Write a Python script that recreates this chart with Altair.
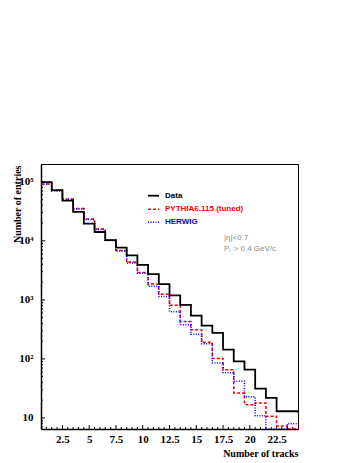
import altair as alt
import pandas as pd

# ---- data (bin centres 1..24, width 1) ----
bins = list(range(1, 25))
data_vals = [98900, 72400, 47800, 30800, 19600, 14100, 10260, 7660, 5650, 3900,
             2720, 1850, 1190, 823, 540, 366, 277, 144, 90.6, 65.6,
             31.3, 21.9, 13.0, 13.0]
pythia_vals = [91500, 70900, 51000, 35200, 23400, 15800, 10300, 6870, 4390, 2900,
               1860, 1240, 807, 430, 311, 191, 102, 65.6, 26.5, 16.8,
               17.9, 10.7, 7.3, 0]
herwig_vals = [91500, 69600, 50000, 34500, 22900, 15500, 10100, 6700, 4200, 2830,
               1700, 1140, 630, 380, 262, 180, 85.1, 58.4, 41.9, 22.9,
               10.9, 0, 0, 8.0]

series_names = ["Data", "PYTHIA6.115 (tuned)", "HERWIG"]
series_colors = ["#000000", "#ff0000", "#0000ff"]
x_label_ticks = [2.5, 5, 7.5, 10, 12.5, 15, 17.5, 20, 22.5]
y_label_ticks = [10, 100, 1000, 10000, 100000]
y_label_text = ["10", "10²", "10³", "10⁴", "10⁵"]
cut_lines = ["|η|<0.7", "Pₜ > 0.4 GeV/c"]

W, H = 257, 265
FONT_SERIF = "Liberation Serif"
FONT_SANS = "Liberation Sans"


def steps(vals, name):
    rows = [{"x": b - 0.5, "v": v, "s": name} for b, v in zip(bins, vals)]
    rows.append({"x": bins[-1] + 0.5, "v": vals[-1], "s": name})
    return rows


df = pd.DataFrame(steps(data_vals, series_names[0])
                  + steps(pythia_vals, series_names[1])
                  + steps(herwig_vals, series_names[2]))

xscale = alt.Scale(domain=[0.5, 24.5], nice=False, zero=False)
yscale = alt.Scale(type="log", domain=[6.5, 2.0e5], nice=False, clamp=True)

ylab_expr = " : ".join(
    f"datum.value == {v} ? '{t}'" for v, t in zip(y_label_ticks, y_label_text)
) + " : ''"

xaxis = alt.Axis(values=x_label_ticks, format=".1~f", ticks=False, tickSize=0, grid=False,
                 domainColor="black", domainWidth=1.5, labelFont=FONT_SERIF,
                 labelFontWeight="bold", labelFontSize=11, labelColor="black",
                 labelPadding=4, labelFlush=False, labelOverlap=False,
                 title="Number of tracks", titleFont=FONT_SERIF, titleFontWeight="bold",
                 titleFontSize=10, titleColor="black", titleAlign="right",
                 titleBaseline="alphabetic", titleX=W, titleY=27.5, titleAngle=0)
yaxis = alt.Axis(values=y_label_ticks, labelExpr=ylab_expr, ticks=False, tickSize=0, grid=False,
                 domainColor="black", domainWidth=1.5, labelFont=FONT_SERIF,
                 labelFontWeight="bold", labelFontSize=11, labelColor="black",
                 labelPadding=8, labelOverlap=False, labelFlush=False,
                 title="Number of entries", titleFont=FONT_SERIF, titleFontWeight="bold",
                 titleFontSize=10, titleColor="black", titleAngle=270, titleAlign="right",
                 titleBaseline="alphabetic", titleX=-21, titleY=1)

# tick decorations (drawn inside the frame, ROOT style)
y_major = list(y_label_ticks)
y_minor = [m * d for d in [1, 10, 100, 1000, 10000, 100000] for m in range(2, 10)
           if 6.5 < m * d < 2.0e5]
x_major = [2.5 * k for k in range(1, 10)]
x_minor = [0.5 * k for k in range(2, 49) if (0.5 * k) % 2.5 != 0]


def ytick_layer(vals, length):
    return alt.Chart(pd.DataFrame({"t": vals})).mark_rule(color="black", strokeWidth=1).encode(
        y=alt.Y("t:Q", scale=yscale, axis=yaxis), x=alt.value(0), x2=alt.value(length))


def xtick_layer(vals, length):
    return alt.Chart(pd.DataFrame({"t": vals})).mark_rule(color="black", strokeWidth=1).encode(
        x=alt.X("t:Q", scale=xscale, axis=xaxis), y=alt.value(H), y2=alt.value(H - length))


def line_layer(name, color, width, dash=None):
    kw = dict(interpolate="step-after", color=color, strokeWidth=width, clip=True)
    if dash is not None:
        kw["strokeDash"] = dash
    return alt.Chart(df).transform_filter(alt.datum.s == name).transform_calculate(
        vp="max(datum.v, 1)").mark_line(**kw).encode(
        x=alt.X("x:Q", scale=xscale, axis=xaxis),
        y=alt.Y("vp:Q", scale=yscale, axis=yaxis),
    )


one = alt.InlineData(values=[{"a": 1}])
dashes = [None, [3, 2], [1, 1.5]]
widths = [1.8, 1.5, 1.5]
legend_rows = [31.7, 45.3, 58.3]

legend_layers = []
for name, color, dash, width, ry in zip(series_names, series_colors, dashes, widths, legend_rows):
    kw = dict(color=color, strokeWidth=width)
    if dash is not None:
        kw["strokeDash"] = dash
    legend_layers.append(alt.Chart(one).mark_rule(**kw).encode(
        x=alt.value(107), x2=alt.value(118), y=alt.value(ry)))
    legend_layers.append(alt.Chart(one).mark_text(
        align="left", baseline="middle", font=FONT_SANS, fontWeight="bold",
        fontSize=8, color=color).encode(
        x=alt.value(124), y=alt.value(ry), text=alt.value(name)))

cut_layers = []
for txt, ry in zip(cut_lines, [74.3, 85.3]):
    cut_layers.append(alt.Chart(one).mark_text(
        align="left", baseline="middle", font=FONT_SANS, fontSize=8,
        color="#8a8a8a").encode(x=alt.value(183), y=alt.value(ry), text=alt.value(txt)))

chart = alt.layer(
    ytick_layer(y_major, 4), ytick_layer(y_minor, 2),
    xtick_layer(x_major, 4), xtick_layer(x_minor, 2),
    line_layer(series_names[1], series_colors[1], 1.5, dashes[1]),
    line_layer(series_names[2], series_colors[2], 1.5, dashes[2]),
    line_layer(series_names[0], series_colors[0], 1.8, None),
    *legend_layers, *cut_layers,
).properties(
    width=W, height=H,
    autosize=alt.AutoSizeParams(type="none"),
    padding={"left": 33, "top": 156, "right": 45, "bottom": 32},
    background="white",
).configure_view(stroke="black", strokeWidth=1)

chart.save("out.html", embed_options={"renderer": "svg", "actions": False})
